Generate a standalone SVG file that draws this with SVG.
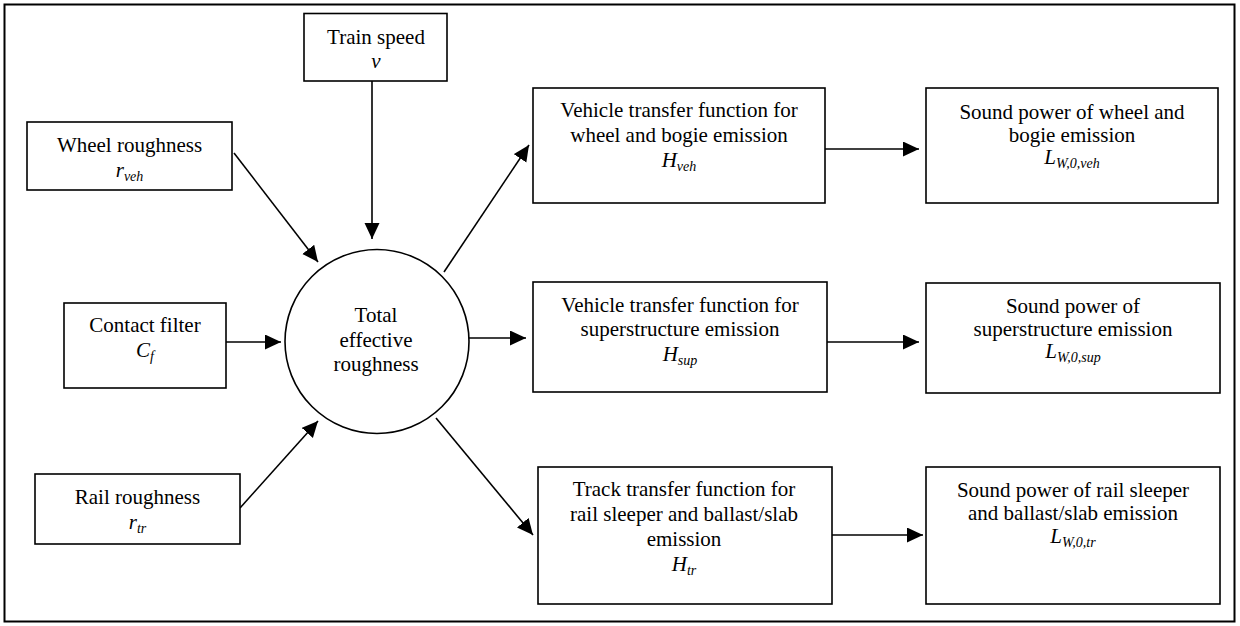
<svg xmlns="http://www.w3.org/2000/svg" width="1240" height="626" viewBox="0 0 1240 626">
<style>
.box{fill:#fff;stroke:#000;stroke-width:1.6}
text{font-family:"Liberation Serif",Tinos,"Times New Roman","DejaVu Serif",serif;font-size:21px;fill:#000;text-anchor:middle}
.i{font-style:italic}
.s{font-style:italic;font-size:14px}
.c line{stroke:#000;stroke-width:1.6;marker-end:url(#ah)}
</style>
<defs>
<marker id="ah" markerUnits="userSpaceOnUse" markerWidth="18" markerHeight="16" refX="16" refY="7.5" orient="auto">
<path d="M0,0 L16,7.5 L0,15 z" fill="#000"/>
</marker>
</defs>
<rect x="0" y="0" width="1240" height="626" fill="#fff"/>
<rect x="4.5" y="4.5" width="1230" height="617" fill="none" stroke="#000" stroke-width="2"/>
<g class="c">
<line x1="372" y1="81" x2="372" y2="239"/>
<line x1="234" y1="153" x2="318" y2="262"/>
<line x1="226" y1="342" x2="281" y2="342"/>
<line x1="240" y1="508" x2="318" y2="421"/>
<line x1="444" y1="272" x2="529" y2="145"/>
<line x1="469" y1="338" x2="526" y2="338"/>
<line x1="436" y1="418" x2="533" y2="535"/>
<line x1="825" y1="149" x2="919" y2="149"/>
<line x1="827" y1="342" x2="919" y2="342"/>
<line x1="832" y1="535" x2="923" y2="535"/>
</g>
<g id="train-speed">
<rect class="box" x="304" y="13.5" width="143" height="67.5"/>
<text x="376" y="44">Train speed</text>
<text class="i" x="376" y="68">v</text>
</g>
<g id="wheel-roughness">
<rect class="box" x="27" y="122" width="205" height="68"/>
<text x="129.5" y="152">Wheel roughness</text>
<text x="129.5" y="177"><tspan class="i">r</tspan><tspan class="s" dy="4">veh</tspan></text>
</g>
<g id="contact-filter">
<rect class="box" x="64" y="303" width="162" height="85"/>
<text x="145" y="332">Contact filter</text>
<text x="145" y="357"><tspan class="i">C</tspan><tspan class="s" dy="4">f</tspan></text>
</g>
<g id="rail-roughness">
<rect class="box" x="35" y="474" width="205" height="70"/>
<text x="137.5" y="504">Rail roughness</text>
<text x="137.5" y="529"><tspan class="i">r</tspan><tspan class="s" dy="4">tr</tspan></text>
</g>
<g id="total-roughness">
<circle cx="377" cy="341.5" r="92" fill="#fff" stroke="#000" stroke-width="1.6"/>
<text x="376" y="322">Total</text>
<text x="376" y="347">effective</text>
<text x="376" y="371">roughness</text>
</g>
<g id="veh-transfer">
<rect class="box" x="533" y="88" width="292" height="115"/>
<text x="679" y="117">Vehicle transfer function for</text>
<text x="679" y="142">wheel and bogie emission</text>
<text x="679" y="167"><tspan class="i">H</tspan><tspan class="s" dy="4">veh</tspan></text>
</g>
<g id="sup-transfer">
<rect class="box" x="533" y="282" width="294" height="110"/>
<text x="680" y="312">Vehicle transfer function for</text>
<text x="680" y="336">superstructure emission</text>
<text x="680" y="361"><tspan class="i">H</tspan><tspan class="s" dy="4">sup</tspan></text>
</g>
<g id="track-transfer">
<rect class="box" x="538" y="467" width="294" height="137"/>
<text x="684" y="496">Track transfer function for</text>
<text x="684" y="521">rail sleeper and ballast/slab</text>
<text x="684" y="546">emission</text>
<text x="684" y="571"><tspan class="i">H</tspan><tspan class="s" dy="4">tr</tspan></text>
</g>
<g id="sp-wheel">
<rect class="box" x="926" y="88" width="292" height="115"/>
<text x="1072" y="119">Sound power of wheel and</text>
<text x="1072" y="142">bogie emission</text>
<text x="1072" y="164"><tspan class="i">L</tspan><tspan class="s" dy="4">W,0,veh</tspan></text>
</g>
<g id="sp-sup">
<rect class="box" x="926" y="283" width="294" height="110"/>
<text x="1073" y="313">Sound power of</text>
<text x="1073" y="336">superstructure emission</text>
<text x="1073" y="358"><tspan class="i">L</tspan><tspan class="s" dy="4">W,0,sup</tspan></text>
</g>
<g id="sp-track">
<rect class="box" x="926" y="467" width="294" height="137"/>
<text x="1073" y="497">Sound power of rail sleeper</text>
<text x="1073" y="520">and ballast/slab emission</text>
<text x="1073" y="543"><tspan class="i">L</tspan><tspan class="s" dy="4">W,0,tr</tspan></text>
</g>
</svg>
